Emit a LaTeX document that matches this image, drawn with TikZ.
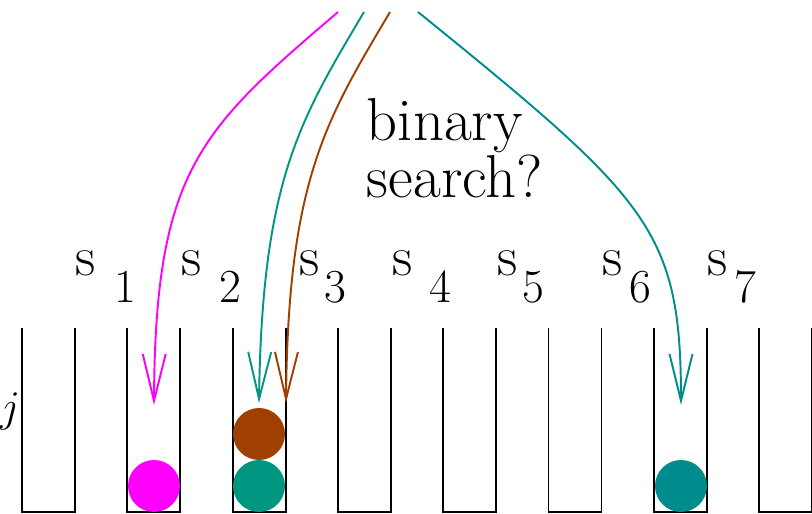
\documentclass[tikz,border=0pt]{standalone}
\usetikzlibrary{arrows.meta}

\definecolor{pink}{RGB}{255,0,255}
\definecolor{tealA}{RGB}{0,150,130}
\definecolor{tealB}{RGB}{0,140,140}
\definecolor{rust}{RGB}{160,64,0}

\begin{document}
\begin{tikzpicture}[x=0.02cm, y=-0.02cm, line width=1.1pt,
    >={Straight Barb[length=0.94cm, width=0.46cm]},
    slabel/.style={anchor=base, inner sep=0pt, font=\fontsize{32}{36}\selectfont},
    sindex/.style={anchor=base, inner sep=0pt, font=\fontsize{27}{31}\selectfont},
    ball/.style={radius=0.52cm}]
    \useasboundingbox (0,0) rectangle (812,514);
    % ---------------- buckets
    \foreach \k in {0,...,7} {
      \pgfmathsetmacro\bx{22+105.3*\k}
      \draw (\bx,328) -- (\bx,512) -- (\bx+53,512) -- (\bx+53,328);
    }
    % ---------------- balls
    \fill[pink]  (154,486) circle[ball];
    \fill[tealA] (259,486) circle[ball];
    \fill[rust]  (259,434) circle[ball];
    \fill[tealB] (681,486) circle[ball];
    % ---------------- labels
    \foreach \i/\sx/\dx in {1/86/125, 2/192/230, 3/310/335, 4/403/440, 5/508/533, 6/613/640, 7/718/745} {
      \node[slabel] (s\i) at (\sx,275) {s};
      \node[sindex] (n\i) at (\dx,302) {\i};
    }
    \node[anchor=base, inner sep=0pt, font=\fontsize{30}{34}\selectfont] (row) at (10,421) {$j$};
    \node[anchor=base west, inner sep=0pt, align=left, font=\fontsize{34.5}{30.7}\selectfont] (bin) at (366,197) {binary\\search?};
    % ---------------- probes
    \coordinate (p1) at (338,12);  \coordinate (q1) at (154,405);
    \coordinate (p2) at (364,12);  \coordinate (q2) at (259,403);
    \coordinate (p3) at (390,12);  \coordinate (q3) at (286,403);
    \coordinate (p4) at (418,12);  \coordinate (q4) at (681,405);
    \draw[->, pink]  (p1) .. controls (200,130) and (155,170) .. (q1);
    \draw[->, tealA] (p2) .. controls (300,120) and (262,180) .. (q2);
    \draw[->, rust]  (p3) .. controls (326,120) and (288,180) .. (q3);
    \draw[->, tealB] (p4) .. controls (650,200) and (681,230) .. (q4);
\end{tikzpicture}
\end{document}
